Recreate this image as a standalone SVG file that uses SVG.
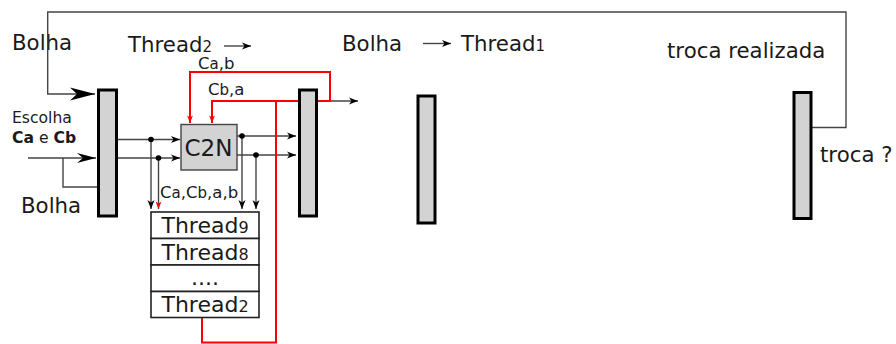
<svg xmlns="http://www.w3.org/2000/svg" width="896" height="344" viewBox="0 0 896 344">
  <style>
    text { font-family: "DejaVu Sans", Verdana, sans-serif; fill: #1a1a1a; }
    .big { font-size: 21.3px; }
    .mid { font-size: 15.6px; }
    .sm { font-size: 16.5px; }
    .sub { font-size: 15px; }
    .bar { fill: #d3d3d3; stroke: #000; stroke-width: 3; }
    .wire { fill: none; stroke: #444; stroke-width: 1.4; }
    .red { fill: none; stroke: #ff0000; stroke-width: 2; }
    .box { fill: #fff; stroke: #222; stroke-width: 1.6; }
  </style>
  <defs>
    <marker id="arr" markerUnits="userSpaceOnUse" markerWidth="12" markerHeight="10" viewBox="-10 -5 12 10" refX="0" refY="0" orient="auto">
      <path d="M0,0 L-9,-3.5 L-6.5,0 L-9,3.5 Z" fill="#000"/>
    </marker>
    <marker id="arrBig" markerUnits="userSpaceOnUse" markerWidth="28" markerHeight="16" viewBox="-26 -8 28 16" refX="0" refY="0" orient="auto">
      <path d="M0,0 L-25,-6.5 L-18,0 L-25,6.5 Z" fill="#000"/>
    </marker>
    <marker id="arrMid" markerUnits="userSpaceOnUse" markerWidth="22" markerHeight="12" viewBox="-20 -6 22 12" refX="0" refY="0" orient="auto">
      <path d="M0,0 L-19,-5 L-13,0 L-19,5 Z" fill="#000"/>
    </marker>
    <marker id="arrRed" markerUnits="userSpaceOnUse" markerWidth="10" markerHeight="12" viewBox="-10 -5 12 10" refX="0" refY="0" orient="auto">
      <path d="M0,0 L-9,-3.5 L-6.5,0 L-9,3.5 Z" fill="#ff0000"/>
    </marker>
  </defs>

  <!-- free labels -->
  <text class="big" x="12" y="50">Bolha</text>
  <text class="big" x="128" y="52">Thread<tspan class="sub">2</tspan></text>
  <text class="big" x="342" y="51">Bolha</text>
  <text class="big" x="461" y="51">Thread<tspan class="sub">1</tspan></text>
  <text class="big" x="667" y="58" font-size="22px">troca realizada</text>
  <text class="big" x="820" y="162">troca ?</text>
  <text class="mid" x="12" y="123">Escolha</text>
  <text class="mid" x="12" y="143"><tspan font-weight="bold">Ca</tspan> e <tspan font-weight="bold">Cb</tspan></text>
  <text class="big" x="21" y="213">Bolha</text>
  <text class="sm" x="198" y="69">C<tspan class="sub">a</tspan>,b</text>
  <text class="sm" x="208" y="95">C<tspan class="sub">b</tspan>,a</text>
  <text class="sm" x="160" y="198">C<tspan class="sub">a</tspan>,C<tspan class="sub">b</tspan>,a,b</text>

  <!-- connectors -->
  <g id="connectors">
    <path class="wire" d="M224,46 H251" marker-end="url(#arr)"/>
    <path class="wire" d="M423,43.5 H451" marker-end="url(#arr)"/>
    <path class="wire" d="M811,127.5 H846 V12 H47.7 V94 H95" marker-end="url(#arrBig)"/>
    <path class="wire" d="M28,158 H96" marker-end="url(#arrMid)"/>
    <path class="wire" d="M63,158 V187 H98"/>
    <path class="wire" d="M116,139.5 H180" marker-end="url(#arr)"/>
    <path class="wire" d="M116,158 H180" marker-end="url(#arr)"/>
    <path class="wire" d="M237,136 H296" marker-end="url(#arr)"/>
    <path class="wire" d="M237,155 H296" marker-end="url(#arr)"/>
    <path class="wire" d="M151,139.5 V209" marker-end="url(#arr)"/>
    <path class="wire" d="M158.5,158 V209" marker-end="url(#arrRed)"/>
    <path class="wire" d="M242,136 V209" marker-end="url(#arr)"/>
    <path class="wire" d="M256,155 V209" marker-end="url(#arr)"/>
    <path class="wire" d="M316,101 H358" marker-end="url(#arr)"/>
    <circle cx="151" cy="139.5" r="2.8" fill="#000"/>
    <circle cx="158.5" cy="158" r="2.8" fill="#000"/>
    <circle cx="242" cy="136" r="2.8" fill="#000"/>
    <circle cx="256" cy="155" r="2.8" fill="#000"/>
    <path class="red" d="M316,101 H330 V72 H190 V123" marker-end="url(#arrRed)"/>
    <path class="red" d="M298,101 H212 V123" marker-end="url(#arrRed)"/>
    <path class="red" d="M276,101 V342.5 H202 V317"/>
  </g>

  <!-- registers -->
  <g id="reg1"><rect class="bar" x="98.5" y="90" width="18" height="126"/></g>
  <g id="reg2"><rect class="bar" x="299.5" y="90" width="17" height="126"/></g>
  <g id="reg3"><rect class="bar" x="418" y="96" width="17" height="127"/></g>
  <g id="reg4"><rect class="bar" x="794" y="92.5" width="17" height="126"/></g>

  <!-- comparator -->
  <g id="c2n">
    <rect x="181" y="124.5" width="56" height="45.5" fill="#d3d3d3" stroke="#444" stroke-width="1.4"/>
    <text x="208.5" y="156" font-size="23" text-anchor="middle">C2N</text>
  </g>

  <!-- thread queue -->
  <g id="threads">
    <rect class="box" x="151" y="212" width="108" height="26.5"/>
    <rect class="box" x="151" y="238.5" width="108" height="26.5"/>
    <rect class="box" x="151" y="265" width="108" height="26.5"/>
    <rect class="box" x="151" y="291.5" width="108" height="26"/>
    <text x="205" y="233" font-size="22" text-anchor="middle">Thread<tspan font-size="16">9</tspan></text>
    <text x="205" y="259.5" font-size="22" text-anchor="middle">Thread<tspan font-size="16">8</tspan></text>
    <text x="205" y="285" font-size="22" text-anchor="middle">....</text>
    <text x="205" y="312" font-size="22" text-anchor="middle">Thread<tspan font-size="16">2</tspan></text>
  </g>
</svg>
